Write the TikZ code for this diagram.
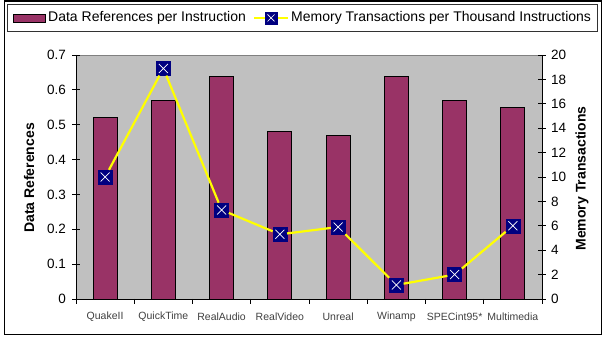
\documentclass[tikz,border=0pt]{standalone}
\usepackage{fontspec}
\setmainfont{Liberation Sans}
\usepackage{tikz}
\usepackage{xcolor}
\definecolor{barfill}{RGB}{153,51,102}
\definecolor{plotgray}{RGB}{192,192,192}
\definecolor{marknavy}{RGB}{0,0,128}
\definecolor{gelb}{RGB}{255,255,0}
\definecolor{axisframe}{RGB}{50,50,50}

\begin{document}
\begin{tikzpicture}[x=1pt, y=-1pt,
    bar/.style = {draw = black, fill = barfill, line width = 0.8pt},
    marker/.style = {draw = marknavy, fill = marknavy, minimum size = 14pt, inner sep = 0pt,
        path picture = {
            \draw[white, line width = 0.7pt]
            ([xshift=2.5pt, yshift=-2.5pt]path picture bounding box.north west) --
            ([xshift=-2.5pt, yshift=2.5pt]path picture bounding box.south east)
            ([xshift=-2.5pt, yshift=-2.5pt]path picture bounding box.north east) --
            ([xshift=2.5pt, yshift=2.5pt]path picture bounding box.south west);
        }},
    trend/.style = {draw = gelb, line width = 2.2pt},
    ticklabel/.style = {font = \fontsize{13.5}{15}\selectfont, inner sep = 0pt},
    catlabel/.style = {font = \fontsize{10.5}{12}\selectfont, inner sep = 0pt, text = black!75}
]
    \useasboundingbox (0,0) rectangle (603,339);
    \draw[black, line width = 1.2pt] (4.5,1) rectangle (601.5,334.5);
    %
    % legend
    \draw[axisframe, line width = 0.6pt] (7.5,4.5) rectangle (597,31.5);
    \draw[bar] (13,14) rectangle (45,22.5);
    \node[anchor = west, inner sep = 0pt, font = \fontsize{14}{16}\selectfont] (leg1) at (48,18)
        {Data References per Instruction};
    \coordinate (legl) at (254,18);
    \coordinate (legr) at (288,18);
    \draw[trend] (legl) -- (legr);
    \node[marker, minimum size = 12pt] (legm) at (271,18) {};
    \node[anchor = west, inner sep = 0pt, font = \fontsize{14}{16}\selectfont] (leg2) at (291,18)
        {Memory Transactions per Thousand Instructions};
    %
    % plot area
    \fill[plotgray] (76,55) rectangle (542,299);
    \draw[gray, line width = 0.5pt] (76,55) -- (542,55);
    \foreach \v [count=\i] in {0.52,0.57,0.64,0.48,0.47,0.64,0.57,0.55}
        \draw[bar] ({76+58.25*(\i-0.5)-12},299) rectangle ++(24,{-\v*244/0.7});
    %
    % axes
    \draw[black, line width = 0.8pt] (76,55) -- (76,299) -- (542,299) -- (542,55);
    \foreach \t [count=\k from 0] in {0,0.1,0.2,0.3,0.4,0.5,0.6,0.7} {
        \draw[black, line width = 0.8pt] (72,{299-\k*244/7}) -- (80,{299-\k*244/7});
        \node[ticklabel, anchor = east] (l\k) at (66,{299-\k*244/7}) {\t};
    }
    \foreach \t [count=\k from 0] in {0,2,4,6,8,10,12,14,16,18,20} {
        \draw[black, line width = 0.8pt] (538,{299-\t*12.2}) -- (546,{299-\t*12.2});
        \node[ticklabel, anchor = west] (r\k) at (551,{299-\t*12.2}) {\t};
    }
    \foreach \k in {0,...,8}
        \draw[black, line width = 0.8pt] ({76+58.25*\k},299) -- ({76+58.25*\k},304);
    \foreach \n [count=\i] in {QuakeII,QuickTime,RealAudio,RealVideo,Unreal,Winamp,SPECint95*,Multimedia}
        \node[catlabel] (c\i) at ({76+58.25*(\i-0.5)},317) {\n};
    %
    \node[rotate = 90, font = \bfseries\fontsize{14}{16}\selectfont] (ytitle) at (29,178)
        {Data References};
    \node[rotate = 90, font = \bfseries\fontsize{14}{16}\selectfont] (y2title) at (582,178.5)
        {Memory Transactions};
    %
    % memory transactions
    \foreach \v [count=\i] in {10,18.9,7.3,5.3,5.9,1.15,2.0,6.0}
        \node[marker] (m\i) at ({76+58.25*(\i-0.5)},{299-\v*12.2}) {};
    \draw[trend] (m1) -- (m2) -- (m3) -- (m4) -- (m5) -- (m6) -- (m7) -- (m8);
\end{tikzpicture}
\end{document}
